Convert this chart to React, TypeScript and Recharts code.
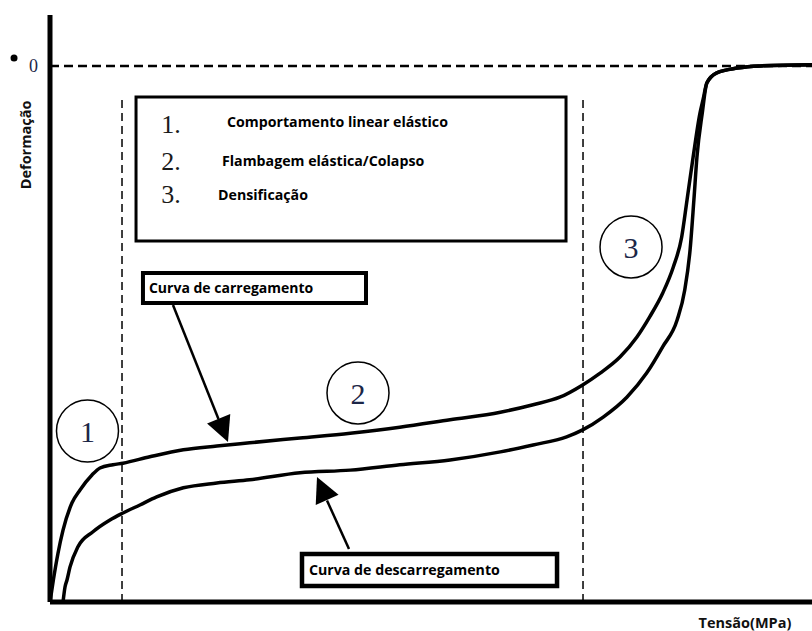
import React from 'react';
import {
  ComposedChart,
  Line,
  XAxis,
  YAxis,
  ReferenceLine,
  ReferenceArea,
  ReferenceDot,
} from 'recharts';

// Curva de carregamento (loading)
const loadingStress = [0, 0.44, 1.05, 1.71, 2.89, 3.94, 5.51, 6.56, 8.27, 9.58, 13.1, 17.5, 21.9, 26.2, 32.8, 39.4, 45.9, 52.5, 59.1, 63.4, 66.9, 69.9, 72.2, 74.8, 77.0, 78.7, 80.4, 81.8, 82.9, 83.6, 84.4, 85.3, 85.7, 86.2, 87.5, 90.2, 93.2, 100];
const loadingStrain = [-100, -95.9, -90.9, -86.6, -81.5, -79.1, -76.3, -75.0, -74.4, -74.1, -72.9, -71.6, -70.9, -70.3, -69.4, -68.5, -67.4, -66.0, -64.6, -63.2, -61.8, -59.5, -57.3, -54.3, -50.6, -46.8, -42.4, -37.5, -31.9, -25.0, -17.0, -8.8, -6.3, -3.2, -1.3, -0.4, 0, 0.2];

// Curva de descarregamento (unloading)
const unloadingStress = [1.71, 1.97, 2.23, 2.62, 3.67, 5.64, 7.87, 9.58, 11.8, 14.0, 17.5, 21.9, 26.2, 32.8, 39.4, 45.9, 52.5, 59.1, 63.4, 67.8, 69.9, 72.6, 75.7, 78.3, 80.4, 82.3, 83.3, 84.0, 84.5, 84.9, 85.6, 86.2, 87.5, 90.2, 93.2, 100];
const unloadingStrain = [-100, -97.2, -95.9, -93.5, -89.7, -86.9, -84.7, -83.4, -81.9, -80.4, -78.7, -77.8, -77.2, -75.9, -75.4, -74.4, -73.5, -72.0, -70.7, -69.2, -67.9, -65.5, -61.8, -57.3, -52.4, -47.4, -41.8, -34.3, -25.0, -17.0, -8.8, -3.2, -1.3, -0.4, 0, 0.2];

const legendNumbers = ['1.', '2.', '3.'];
const legendTexts = ['Comportamento linear elástico', 'Flambagem elástica/Colapso', 'Densificação'];
const regionLabels = ['1', '2', '3'];
const yTicks = [0];

const loadingData = loadingStress.map((x, i) => ({ x, y: loadingStrain[i] }));
const unloadingData = unloadingStress.map((x, i) => ({ x, y: unloadingStrain[i] }));

const SERIF = '"Liberation Serif", "Times New Roman", serif';
const SANS = '"Open Sans", Lato, sans-serif';

const textShape = (content: string, style: any) => (p: any) => (
  <text x={p.cx} y={p.cy} {...style}>{content}</text>
);

const arrowHead = (angleDeg: number) => (p: any) => {
  const a = (angleDeg * Math.PI) / 180;
  const ux = Math.cos(a);
  const uy = Math.sin(a);
  const len = 25;
  const hw = 12.5;
  const bx = p.cx - ux * len;
  const by = p.cy - uy * len;
  const nx = -uy;
  const ny = ux;
  const pts = `${p.cx},${p.cy} ${bx + nx * hw},${by + ny * hw} ${bx - nx * hw},${by - ny * hw}`;
  return <polygon points={pts} fill="#000" />;
};

const YTick = (p: any) => (
  <text x={p.x - 4} y={p.y} dy="0.35em" textAnchor="end" fontFamily={SERIF} fontSize={18} fill="#1c2647">
    {p.payload.value}
  </text>
);

const legendX = 14.6;
const legendTextX = [23.23, 22.57, 22.05];
const legendYs = [-12.5, -19.4, -25.56];
const legendTextYs = [-11.38, -18.66, -25.0];

export default function App() {
  return (
    <div style={{ position: 'absolute', left: 0, top: 0, background: '#fff' }}>
      <ComposedChart width={812} height={631} margin={{ top: 15, right: 0, bottom: 0, left: 0 }}>
        <XAxis
          type="number"
          dataKey="x"
          domain={[0, 100]}
          allowDataOverflow
          height={29}
          tick={false}
          tickLine={false}
          axisLine={{ stroke: '#000', strokeWidth: 5 }}
        />
        <YAxis
          type="number"
          dataKey="y"
          domain={[-100, 9.5]}
          allowDataOverflow
          width={50}
          ticks={yTicks}
          tick={<YTick />}
          tickLine={false}
          axisLine={{ stroke: '#000', strokeWidth: 5 }}
        />
        <ReferenceLine y={0} stroke="#000" strokeWidth={2.5} strokeDasharray="9 5" />
        <ReferenceLine
          segment={[{ x: 9.45, y: -100 }, { x: 9.45, y: -5.78 }]}
          stroke="#000"
          strokeWidth={1.5}
          strokeDasharray="8 5"
        />
        <ReferenceLine
          segment={[{ x: 69.95, y: -100 }, { x: 69.95, y: -5.78 }]}
          stroke="#000"
          strokeWidth={1.5}
          strokeDasharray="8 5"
        />
        <ReferenceArea x1={11.29} x2={67.72} y1={-32.65} y2={-5.78} fill="#fff" fillOpacity={1} stroke="#000" strokeWidth={3} />
        {legendNumbers.map((n, i) => (
          <ReferenceDot
            key={'n' + i}
            x={legendX}
            y={legendYs[i]}
            r={0}
            shape={textShape(n, { fontFamily: SERIF, fontSize: 26, fill: '#1a1a1a' })}
          />
        ))}
        {legendTexts.map((t, i) => (
          <ReferenceDot
            key={'t' + i}
            x={legendTextX[i]}
            y={legendTextYs[i]}
            r={0}
            shape={textShape(t, { fontFamily: SANS, fontSize: 14.2, fontWeight: 700, fill: '#000' })}
          />
        ))}
        <Line data={loadingData} dataKey="y" type="monotone" stroke="#000" strokeWidth={3.5} dot={false} activeDot={false} isAnimationActive={false} />
        <Line data={unloadingData} dataKey="y" type="monotone" stroke="#000" strokeWidth={3.5} dot={false} activeDot={false} isAnimationActive={false} />
        {[{ x: 4.92, y: -68.1 }, { x: 40.42, y: -61.0 }, { x: 76.25, y: -33.77 }].map((c, i) => (
          <ReferenceDot
            key={'c' + i}
            x={c.x}
            y={c.y}
            r={31}
            fill="none"
            stroke="#000"
            strokeWidth={1.5}
            label={{ value: regionLabels[i], position: 'center', fontFamily: SERIF, fontSize: 30, fill: '#1c2647' }}
          />
        ))}
        <ReferenceArea
          x1={12.2}
          x2={41.47}
          y1={-44.22}
          y2={-38.62}
          fill="#fff"
          fillOpacity={1}
          stroke="#000"
          strokeWidth={4}
          label={{ value: 'Curva de carregamento', position: 'insideLeft', offset: 6, fontFamily: SANS, fontSize: 14, fontWeight: 700, fill: '#000' }}
        />
        <ReferenceArea
          x1={33.07}
          x2={66.54}
          y1={-97.01}
          y2={-91.04}
          fill="#fff"
          fillOpacity={1}
          stroke="#000"
          strokeWidth={4.5}
          label={{ value: 'Curva de descarregamento', position: 'insideLeft', offset: 7, fontFamily: SANS, fontSize: 14.2, fontWeight: 700, fill: '#000' }}
        />
        <ReferenceLine segment={[{ x: 16.14, y: -44.59 }, { x: 22.11, y: -65.86 }]} stroke="#000" strokeWidth={2.5} />
        <ReferenceDot x={23.36} y={-70.15} r={0} shape={arrowHead(68.1)} />
        <ReferenceLine segment={[{ x: 39.24, y: -90.11 }, { x: 36.35, y: -81.06 }]} stroke="#000" strokeWidth={2.5} />
        <ReferenceDot x={35.04} y={-76.68} r={0} shape={arrowHead(-113.96)} />
        <ReferenceDot x={-4.72} y={1.49} r={3.5} fill="#000" stroke="none" ifOverflow="visible" />
        <ReferenceDot
          x={-3.15}
          y={-14.74}
          r={0}
          ifOverflow="visible"
          shape={(p: any) => (
            <text
              x={p.cx}
              y={p.cy}
              transform={`rotate(-90 ${p.cx} ${p.cy})`}
              textAnchor="middle"
              dy="0.35em"
              fontFamily={SANS}
              fontSize={14.5}
              fontWeight={700}
              fill="#111"
            >
              Deformação
            </text>
          )}
        />
        <ReferenceDot
          x={91.2}
          y={-103.9}
          r={0}
          ifOverflow="visible"
          shape={(p: any) => (
            <text x={p.cx} y={p.cy} textAnchor="middle" dy="0.35em" fontFamily={SANS} fontSize={14.5} fontWeight={700} fill="#111">
              Tensão(MPa)
            </text>
          )}
        />
      </ComposedChart>
    </div>
  );
}
